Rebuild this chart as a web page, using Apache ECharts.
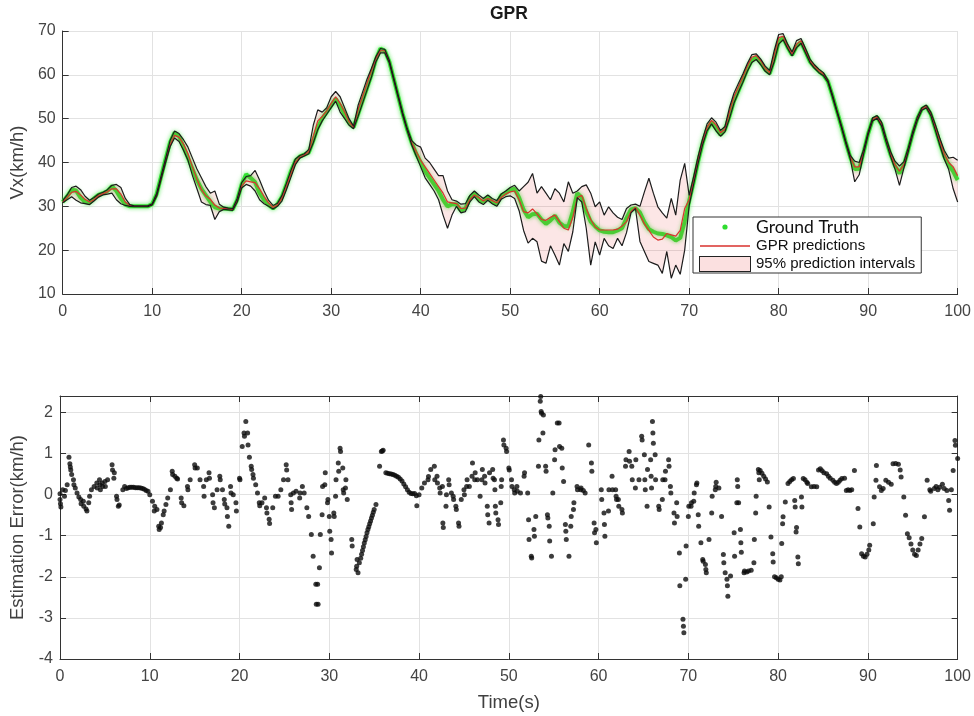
<!DOCTYPE html>
<html>
<head>
<meta charset="utf-8">
<title>GPR</title>
<script src="https://cdn.jsdelivr.net/npm/echarts@6/dist/echarts.min.js"></script>
<style>
html, body { margin: 0; padding: 0; background: #fff; }
#main { width: 974px; height: 716px; }
</style>
</head>
<body>
<div id="main"></div>
<script>
// sample times (s), every 0.5 s
var time = [
  0, 0.5, 1, 1.5, 2, 2.5, 3, 3.5, 4, 4.5, 5, 5.5, 6, 6.5, 7, 7.5, 8, 8.5, 9, 9.5,
  10, 10.5, 11, 11.5, 12, 12.5, 13, 13.5, 14, 14.5, 15, 15.5, 16, 16.5, 17, 17.5, 18, 18.5, 19, 19.5,
  20, 20.5, 21, 21.5, 22, 22.5, 23, 23.5, 24, 24.5, 25, 25.5, 26, 26.5, 27, 27.5, 28, 28.5, 29, 29.5,
  30, 30.5, 31, 31.5, 32, 32.5, 33, 33.5, 34, 34.5, 35, 35.5, 36, 36.5, 37, 37.5, 38, 38.5, 39, 39.5,
  40, 40.5, 41, 41.5, 42, 42.5, 43, 43.5, 44, 44.5, 45, 45.5, 46, 46.5, 47, 47.5, 48, 48.5, 49, 49.5,
  50, 50.5, 51, 51.5, 52, 52.5, 53, 53.5, 54, 54.5, 55, 55.5, 56, 56.5, 57, 57.5, 58, 58.5, 59, 59.5,
  60, 60.5, 61, 61.5, 62, 62.5, 63, 63.5, 64, 64.5, 65, 65.5, 66, 66.5, 67, 67.5, 68, 68.5, 69, 69.5,
  70, 70.5, 71, 71.5, 72, 72.5, 73, 73.5, 74, 74.5, 75, 75.5, 76, 76.5, 77, 77.5, 78, 78.5, 79, 79.5,
  80, 80.5, 81, 81.5, 82, 82.5, 83, 83.5, 84, 84.5, 85, 85.5, 86, 86.5, 87, 87.5, 88, 88.5, 89, 89.5,
  90, 90.5, 91, 91.5, 92, 92.5, 93, 93.5, 94, 94.5, 95, 95.5, 96, 96.5, 97, 97.5, 98, 98.5, 99, 99.5, 100
];

// measured speed (km/h)
var truth = [
  31, 32.3, 33.8, 33.6, 32, 31, 30.8, 31.8, 32.6, 33, 33.5, 34.6, 33.5, 31.8, 30.4, 30, 30, 30, 30, 30,
  30.5, 32.8, 36.8, 40.8, 44.6, 46.8, 46, 43.5, 41, 38.5, 36, 34, 32.5, 31, 29.8, 29.5, 29.5, 29.4, 29.3, 31.5,
  35, 37.3, 36.5, 35.5, 33, 31.5, 30.3, 29.5, 30.5, 32.2, 35, 38, 40.4, 41.4, 41.8, 42.3, 45, 48, 50, 51.5,
  53, 54.5, 53, 51, 49, 48, 51, 54, 57, 60, 63.5, 66, 65.5, 63, 59, 55, 51, 47.5, 44.5, 42,
  40, 38, 36.5, 35, 33.5, 31.5, 30, 30.5, 30.5, 29, 29.5, 32, 33, 31.5, 31, 32.2, 31, 30.5, 32.5, 33,
  33.8, 34, 32, 29.2, 27.5, 28.2, 28.3, 27, 26, 26.8, 27.9, 26.3, 25.5, 25.4, 28.8, 33, 32, 28.8, 26.5, 25.4,
  24.5, 24.2, 24.1, 24.1, 24.5, 25, 27.3, 29.3, 29.6, 28.6, 26.4, 24.8, 24.2, 23.8, 23.7, 23.4, 23, 22.2, 22.8, 26.5,
  31.2, 35.5, 40.2, 44.4, 47.5, 49.2, 47.8, 46.3, 47.5, 50.5, 54, 56.3, 58.8, 61.3, 63.3, 64, 62.8, 61.2, 60.3, 63.5,
  67.5, 68.5, 66.3, 64.5, 66.5, 67.5, 65.3, 63, 61.8, 60.8, 60, 58.5, 55.3, 51.8, 48.3, 44.6, 41.2, 38.5, 38.6, 42.4,
  46.6, 49.8, 50.4, 48.6, 45, 41.8, 39.2, 37.5, 39.5, 43, 46.8, 50, 52.2, 52.8, 51, 47.8, 44.5, 41.4, 39.5, 38, 36
];

// GPR mean prediction
var predicted = [
  31, 32, 33.2, 33.4, 32.6, 31.6, 31, 31.5, 32.4, 32.9, 33.3, 34, 34, 32.8, 31, 30.2, 30, 30, 30, 30,
  30.4, 32.5, 36.4, 40.4, 44, 46.2, 45.8, 44.2, 42, 39, 36.2, 33.8, 32.4, 31.6, 30.3, 29.6, 29.5, 29.4, 29.3, 31.2,
  34.6, 35.8, 35.6, 35.4, 34, 32.3, 30.8, 29.8, 30.3, 31.8, 34.5, 37.4, 40, 41.2, 41.7, 42.5, 46, 49.5, 50.5, 51.8,
  53.5, 55, 53.5, 51.5, 49.3, 48, 52, 55, 58, 61, 63.8, 65.5, 65.5, 63, 59, 55, 51, 47.5, 44.5, 42.5,
  40.5, 39, 37.5, 36, 34.5, 33, 31, 30.8, 30.6, 29.5, 29.6, 31.5, 32.6, 32, 31.2, 31.8, 31.3, 30.8, 32, 32.8,
  33.3, 33.5, 31.5, 28.8, 28.5, 29.4, 28.3, 27, 26.8, 27.5, 28, 26.5, 25, 24.6, 27.5, 32, 32.5, 29.5, 27, 25.3,
  24.6, 24.6, 24.6, 24.6, 24.8, 25.5, 26.5, 28.8, 29.8, 28, 26, 24.5, 23, 22.3, 22.5, 23.8, 23.5, 23.2, 24.5, 29.5,
  31.5, 36, 40.8, 44.8, 48, 49.6, 48.6, 46.8, 47.6, 51.5, 55, 57.2, 59.5, 62, 64, 64.4, 63.2, 61.5, 60.5, 64.5,
  68.5, 68.8, 66.5, 64.8, 67, 67.8, 65.5, 63.2, 62, 61, 60.2, 58.6, 55.3, 51.8, 48.3, 44.6, 41.3, 39, 39, 42.5,
  46.6, 49.8, 50.4, 48.8, 45.2, 42, 39.5, 38, 39.5, 43, 46.8, 50, 52.2, 52.8, 51.2, 48.2, 45, 42, 40, 39, 37
];

// 95% interval, lower edge
var lower = [
  30.8, 31.5, 32.2, 31.4, 30.8, 30.6, 30.4, 31.2, 32.1, 32.6, 32.8, 33, 31.5, 30.6, 30.2, 30, 29.9, 29.9, 29.9, 29.9,
  30.3, 32.3, 36.2, 40, 43.6, 45.6, 44.8, 42.8, 40.5, 37, 34, 31, 30.4, 30.2, 27, 28.8, 29.3, 29.2, 29.1, 31,
  34.2, 35, 34.6, 33.5, 31.5, 30.6, 30, 29.4, 30, 31.2, 33.8, 36.6, 39.5, 41, 41.5, 42, 44.5, 47.5, 49.5, 51,
  52.5, 54, 51.5, 50, 48.5, 47.7, 50.5, 53.5, 56.5, 59.5, 63, 65, 65, 62.7, 58.7, 54.7, 50.7, 47.2, 44, 41.5,
  39, 36.5, 35, 33.5, 31.5, 28, 25, 28, 30, 28.5, 28.8, 31, 32.2, 31, 30.4, 31.4, 30.6, 30, 31.6, 32.2,
  32.4, 31.8, 29, 24.5, 21.6, 22.7, 21.9, 17.5, 17, 21, 18.9, 16.6, 21.5, 19.7, 24.2, 32, 31, 25, 16.6, 21.9,
  18.9, 22.7, 21, 20.4, 22.7, 21, 24, 28.5, 29.5, 22, 19.7, 17.4, 17, 16.6, 14.7, 19.7, 13.6, 16.6, 14.5, 20,
  30.2, 35, 39.8, 44, 47.2, 48.8, 47.2, 46, 47, 50, 53.5, 56, 58.3, 60.8, 62.8, 63.5, 62.3, 60.8, 60, 63,
  67, 68, 66, 64.3, 66.2, 67.2, 65, 62.8, 61.5, 60.5, 59.8, 58.3, 55, 51.5, 48, 44.3, 40.8, 35.6, 37.2, 42,
  46.3, 49.5, 50.1, 48.3, 44.7, 41.4, 38.5, 34.8, 38.8, 42.6, 46.4, 49.6, 51.9, 52.5, 50.7, 47.4, 44, 40.8, 38.4, 34, 31
];

// 95% interval, upper edge
var upper = [
  31.3, 32.6, 34.3, 34.6, 33.8, 32.3, 31.4, 32, 32.8, 33.2, 33.8, 34.8, 35, 34.3, 31.8, 30.4, 30.1, 30.1, 30.1, 30.1,
  30.6, 33, 37, 41, 45, 47.2, 46.6, 45.2, 43.5, 41, 38.5, 36.5, 34.5, 33, 33.5, 30.5, 29.8, 29.6, 29.5, 31.8,
  35.4, 36.8, 37, 38.2, 36, 33.5, 31.4, 30.2, 30.7, 32.5, 35.3, 38.2, 40.8, 41.6, 42, 43, 48.5, 52, 51.5, 52.5,
  55, 56.2, 55, 52.5, 50, 48.3, 53, 56, 59, 61.5, 64.2, 66, 65.8, 63.3, 59.3, 55.3, 51.3, 47.8, 45, 44,
  43.5, 41, 40, 38.5, 37, 37, 33.5, 31.5, 31.2, 30.5, 30.6, 32.5, 33.5, 32.6, 31.8, 32.6, 31.8, 31.3, 32.8, 33.5,
  34.3, 34.8, 33.5, 34.5, 35.5, 37.5, 33, 34.5, 33, 31.5, 34, 33, 31, 35.6, 33, 33.5, 34.5, 34.9, 33, 29.9,
  31, 28, 29.9, 28.5, 27.5, 27, 29.5, 30.3, 30.5, 30, 33.3, 36.4, 33, 29.9, 28.5, 27.3, 31.8, 28, 36, 39.8,
  32.5, 36.8, 41.4, 45.4, 48.8, 50.2, 49.2, 47.3, 48.2, 52.5, 55.8, 58, 60.2, 62.6, 64.6, 64.8, 63.6, 62, 61, 65.5,
  69.2, 69.4, 67, 65.2, 67.8, 68.3, 66, 63.6, 62.3, 61.3, 60.5, 58.8, 55.6, 52, 48.6, 44.9, 41.6, 40.3, 40, 43,
  47, 50.2, 50.7, 49.2, 45.6, 42.5, 40.3, 39.2, 40.2, 43.5, 47.2, 50.4, 52.5, 53.1, 51.5, 48.7, 45.6, 42.8, 41, 41.2, 40.5
];

// estimation error samples [time s, error km/h]
var errorPoints = [
  [0,0.02],[0,-0.12],[0.05,-0.22],[0.1,-0.3],[0.3,0.12],[0.5,-0.04],[0.6,0.1],[0.8,0.24],[1,0.91],[1.1,0.75],
  [1.15,0.67],[1.2,0.6],[1.3,0.49],[1.5,0.36],[1.55,0.24],[1.7,0.16],[1.9,0.04],[2.1,-0.06],[2.3,-0.12],[2.35,-0.22],
  [2.6,-0.16],[2.65,-0.28],[2.9,-0.35],[3,-0.4],[3.2,-0.2],[3.3,-0.04],[3.5,0.12],[3.8,0.2],[4.1,0.28],[4.15,0.16],
  [4.4,0.36],[4.45,0.24],[4.5,0.12],[4.7,0.28],[4.75,0.2],[5,0.32],[5.05,0.2],[5.3,0.36],[5.8,0.73],[5.85,0.6],
  [6,0.4],[6.05,0.53],[6.3,-0.04],[6.35,-0.12],[6.5,-0.28],[6.6,-0.25],[7,0.12],[7.2,0.2],[7.4,0.15],[7.6,0.17],
  [7.8,0.18],[8,0.18],[8.2,0.18],[8.4,0.17],[8.6,0.17],[8.8,0.17],[9,0.16],[9.2,0.15],[9.4,0.13],[9.6,0.1],
  [9.8,0.08],[10,0],[10.3,-0.16],[10.5,-0.4],[10.55,-0.28],[10.8,-0.36],[11,-0.77],[11.05,-0.85],[11.2,-0.8],[11.3,-0.69],
  [11.5,-0.49],[11.6,-0.4],[11.8,-0.24],[12,-0.08],[12.3,0.12],[12.5,0.57],[12.55,0.49],[12.8,0.45],[13,0.4],[13.1,0.38],
  [13.5,-0.08],[13.55,-0.2],[13.8,-0.27],[14.2,0.2],[14.25,0.12],[14.5,0.36],[15,0.73],[15.05,0.65],[15.3,0.65],[15.6,0.36],
  [16,0.2],[16.05,-0.04],[16.3,0.36],[16.6,0.53],[16.65,0.4],[17,0],[17.05,-0.2],[17.2,-0.32],[17.5,0.12],[17.8,0.45],
  [17.85,0.36],[18.1,0.12],[18.3,-0.12],[18.35,-0.23],[18.6,-0.32],[18.65,-0.53],[18.8,-0.77],[19,0.2],[19.05,0.04],[19.3,0],
  [19.6,-0.2],[19.65,-0.4],[20,0.4],[20.05,0.36],[20.3,1.17],[20.5,1.5],[20.55,1.42],[20.7,1.78],[20.9,1.5],[20.95,1.21],
  [21.1,0.91],[21.3,0.69],[21.35,0.61],[21.5,0.49],[21.55,0.4],[21.8,0.24],[22,0.04],[22.2,-0.2],[22.25,-0.27],[22.5,-0.2],
  [22.8,-0.08],[23,-0.32],[23.05,-0.45],[23.3,-0.6],[23.35,-0.7],[23.7,-0.32],[24,-0.04],[24.3,-0.04],[24.6,0.12],[24.9,0.36],
  [25.2,0.73],[25.25,0.6],[25.4,0.36],[25.7,0],[25.75,-0.2],[25.8,-0.36],[26,0.04],[26.3,0.08],[26.7,-0.08],[26.75,0.04],
  [27,0.2],[27.2,0.04],[27.5,-0.32],[27.7,-0.53],[28,-0.97],[28.2,-1.5],[28.5,-2.18],[28.55,-2.67],[28.7,-2.18],[28.75,-2.67],
  [28.9,-1.78],[29,-0.97],[29.2,-0.49],[29.25,0.2],[29.5,0.24],[29.55,0.53],[29.8,-0.2],[29.85,-0.12],[30,-0.53],[30.05,-0.89],
  [30.2,-1.09],[30.25,-1.42],[30.5,-0.45],[30.55,-0.53],[30.7,-0.04],[30.75,0.36],[31,0.77],[31.05,0.57],[31.2,1.13],[31.25,1.05],
  [31.5,0.65],[31.55,0.12],[31.6,0.04],[31.8,0.16],[31.85,0.36],[32,-0.12],[32.5,-1.09],[32.55,-1.25],[33,-1.82],[33.05,-1.74],
  [33.1,-1.58],[33.2,-1.9],[33.35,-1.66],[33.5,-1.55],[33.6,-1.45],[33.7,-1.36],[33.8,-1.27],[33.9,-1.18],[34,-1.1],[34.1,-1.02],
  [34.2,-0.93],[34.3,-0.85],[34.4,-0.78],[34.5,-0.71],[34.6,-0.64],[34.7,-0.57],[34.8,-0.5],[34.9,-0.43],[35,-0.36],[35.2,-0.24],
  [35.6,0.69],[35.8,1.05],[35.9,1.06],[36,1.08],[36.3,0.53],[36.5,0.52],[36.7,0.51],[36.9,0.5],[37.1,0.49],[37.3,0.47],
  [37.5,0.45],[37.7,0.42],[37.9,0.38],[38.1,0.33],[38.3,0.26],[38.5,0.19],[38.7,0.12],[38.9,0.06],[39.1,0.03],[39.3,0.02],
  [39.5,0.03],[39.7,-0.03],[39.75,-0.27],[40,0],[40.3,0.16],[40.6,0.28],[41,0.36],[41.05,0.44],[41.3,0.61],[41.7,0.69],
  [41.75,0.36],[42,0.45],[42.05,0.28],[42.3,0.16],[42.35,0.04],[42.6,0.2],[42.65,-0.69],[42.7,-0.8],[43,-0.28],[43.05,0],
  [43.3,0.36],[43.35,0.24],[43.6,0.04],[43.8,-0.04],[43.85,-0.12],[44.1,-0.28],[44.15,-0.36],[44.4,-0.69],[44.45,-0.77],[44.7,-0.12],
  [45,0.12],[45.05,0],[45.3,0.2],[45.35,0.36],[45.6,0.2],[45.9,0.45],[45.95,0.77],[46.2,0.36],[46.25,0.53],[46.5,0.36],
  [46.8,-0.04],[47,0.36],[47.05,0.61],[47.3,0.45],[47.35,0.28],[47.6,-0.28],[47.65,-0.49],[47.8,-0.69],[47.85,0.53],[48.2,0.61],
  [48.25,0.4],[48.4,0.36],[48.45,0.12],[48.5,-0.28],[48.55,-0.45],[48.8,-0.61],[48.85,-0.73],[49.1,-0.2],[49.15,0.2],[49.2,0.36],
  [49.4,1.33],[49.45,1.21],[49.7,1.13],[49.75,1.05],[50,0.65],[50.05,0.6],[50.3,0.36],[50.35,0.2],[50.6,0.12],[50.65,0.04],
  [50.9,0.2],[50.95,0.08],[51.3,0.04],[51.7,0.45],[51.75,0.53],[52.1,0.04],[52.2,-0.61],[52.25,-1.09],[52.5,-1.5],[52.55,-1.54],
  [52.8,-0.85],[52.85,-1.01],[53,-0.53],[53.3,0.69],[53.35,1.33],[53.5,2.27],[53.55,2.39],[53.6,2.02],[53.65,1.98],[53.8,1.5],
  [53.85,1.94],[54.1,0.69],[54.15,0.57],[54.3,-0.49],[54.35,-0.57],[54.5,-0.77],[54.55,-1.13],[54.75,-1.5],[54.9,0.04],[55.1,0.85],
  [55.15,1.09],[55.4,1.74],[55.45,2.41],[55.6,1.74],[55.65,1.17],[55.9,1.13],[55.95,0.65],[56.1,0.32],[56.3,-0.73],[56.35,-0.89],
  [56.4,-1.09],[56.7,-1.5],[56.9,-0.77],[56.95,-0.53],[57.2,-0.36],[57.25,-0.2],[57.6,0.2],[57.65,0.12],[58,0.12],[58.05,0.16],
  [58.3,0.1],[58.5,0.04],[58.9,1.21],[59.2,0.77],[59.25,0.57],[59.5,-0.69],[59.55,-0.93],[59.7,-0.85],[59.75,-1.17],[60.3,0.12],
  [60.35,-0.12],[60.6,-0.45],[60.65,-0.73],[60.7,-1.01],[61.1,-0.4],[61.15,0.12],[61.5,0.45],[61.55,0.12],[61.9,0.12],[61.95,-0.04],
  [62,-0.12],[62.2,-0.12],[62.25,-0.28],[62.6,-0.36],[62.65,-0.45],[63,0.69],[63.05,0.85],[63.4,1.05],[63.45,0.81],[63.7,0.69],
  [63.75,0.36],[64.1,0.16],[64.15,0.85],[64.5,0.36],[64.8,1.42],[64.85,1.33],[65.1,0.97],[65.15,0.36],[65.2,0.12],[65.4,-0.28],
  [65.45,0.61],[65.8,0.85],[65.85,0.45],[65.9,0.16],[66,1.78],[66.05,1.5],[66.1,1.25],[66.3,0.97],[66.35,0.36],[66.7,-0.28],
  [66.75,-0.36],[67.1,-0.12],[67.15,0.36],[67.4,0.36],[67.45,0.57],[67.8,0.85],[67.85,0.69],[68,0.2],[68.05,0.04],[68.4,-0.45],
  [68.45,-0.69],[68.7,-0.2],[68.75,-0.53],[69,-1.42],[69.05,-2.22],[69.4,-3.03],[69.45,-3.2],[69.5,-3.36],[69.7,-2.06],[69.75,-1.25],
  [70,-0.53],[70.05,-0.28],[70.3,-0.28],[70.35,-0.2],[70.6,-0.16],[70.65,0.04],[70.9,0.24],[70.95,0.28],[71.1,-0.49],[71.15,-0.77],
  [71.4,-1.17],[71.6,-1.58],[71.65,-1.62],[71.9,-1.7],[71.95,-1.82],[72,-1.9],[72.3,-1.09],[72.6,-0.45],[72.65,-0.04],[73,0.12],
  [73.05,0.2],[73.1,0.3],[73.4,0.16],[73.7,-0.53],[73.9,-1.46],[73.95,-1.66],[74.1,-1.9],[74.3,-2.06],[74.35,-2.22],[74.4,-2.47],
  [74.7,-1.98],[75.1,-0.93],[75.15,-1.5],[75.4,-0.2],[75.45,0.36],[75.5,0.2],[75.6,-0.2],[75.8,-0.85],[75.85,-1.17],[75.9,-1.4],
  [76.2,-1.9],[76.25,-1.86],[76.5,-1.88],[76.7,-1.86],[77,-1.84],[77.3,-1.66],[77.35,-1.09],[77.5,-0.45],[77.55,-0.04],[77.8,0.61],
  [77.85,0.53],[77.9,0.36],[78,0.59],[78.2,0.52],[78.4,0.45],[78.6,0.38],[78.8,0.31],[79,-0.3],[79.2,-1.03],[79.4,-1.44],
  [79.45,-1.64],[79.6,-2],[79.8,-2.02],[80,-2.06],[80.2,-2.08],[80.35,-2],[80.4,-1.19],[80.5,-0.71],[80.55,-0.54],[80.8,-0.18],
  [81.1,0.27],[81.3,0.32],[81.5,0.36],[81.7,0.39],[81.85,-0.14],[81.9,-0.3],[82,-0.91],[82.05,-0.8],[82.2,-1.52],[82.25,-1.68],
  [82.6,-0.06],[82.65,-0.3],[82.8,0.39],[83,0.36],[83.2,0.3],[83.3,0.27],[83.7,0.19],[84,0.2],[84.3,0.19],[84.5,0.6],
  [84.7,0.63],[84.9,0.58],[85.1,0.53],[85.4,0.51],[85.6,0.45],[85.8,0.4],[86.1,0.35],[86.3,0.3],[86.5,0.27],[86.7,0.3],
  [86.9,0.35],[87.1,0.39],[87.4,0.4],[87.6,0.1],[87.8,0.12],[88,0.1],[88.2,0.12],[88.5,0.59],[88.9,-0.34],[89.1,-0.79],
  [89.3,-1.44],[89.5,-1.5],[89.7,-1.52],[89.9,-1.45],[90.1,-1.35],[90.2,-1.23],[90.6,-0.71],[90.7,-0.06],[90.9,0.35],[90.95,0.71],
  [91.3,0.19],[91.5,0.1],[91.7,0.15],[92,0.35],[92.3,0.3],[92.6,0.25],[92.8,0.75],[93.1,0.76],[93.4,0.74],[93.6,0.6],
  [93.7,0.43],[94,-0.06],[94.2,-0.5],[94.4,-0.95],[94.6,-1.05],[94.8,-1.2],[95,-1.35],[95.2,-1.45],[95.4,-1.48],[95.6,-1.35],
  [95.8,-1.2],[96,-1.07],[96.3,-0.54],[96.6,0.35],[96.9,0.12],[97,0.08],[97.4,0.15],[97.6,0.2],[97.8,0.12],[98,0.18],
  [98.3,0.25],[98.5,0.15],[98.8,0.1],[99,-0.14],[99.1,-0.38],[99.3,0.12],[99.5,0.59],[99.7,1.32],[99.75,1.2],[100,0.88]
];

function pairs(values) {
  return time.map(function (t, i) { return [t, values[i]]; });
}

function svgIcon(body) {
  return 'image://data:image/svg+xml;charset=utf-8,' + encodeURIComponent(
    '<svg xmlns="http://www.w3.org/2000/svg" width="52" height="16" viewBox="0 0 52 16">' + body + '</svg>');
}

var axisColor = '#333';
var labelStyle = { color: '#444', fontSize: 16, fontFamily: 'Liberation Sans' };
var nameStyle = { color: '#404040', fontSize: 18.5, fontFamily: 'Liberation Sans' };
var gridLine = { show: true, lineStyle: { color: '#e2e2e2', width: 1 } };
var intLabel = function (v) { return Math.abs(v - Math.round(v)) < 1e-9 ? String(v) : ''; };

function xAxisOf(gridIndex, extra) {
  var ax = {
    gridIndex: gridIndex, type: 'value', min: 0, max: 100, interval: 10,
    axisLine: { onZero: false, lineStyle: { color: axisColor, width: 1 } },
    axisTick: { inside: true, length: 6, lineStyle: { color: axisColor } },
    axisLabel: Object.assign({ margin: 10 }, labelStyle),
    splitLine: gridLine
  };
  return Object.assign(ax, extra || {});
}

function yAxisOf(gridIndex, min, max, extra) {
  var ax = {
    gridIndex: gridIndex, type: 'value', min: min, max: max, interval: 1,
    axisLine: { onZero: false, lineStyle: { color: axisColor, width: 1 } },
    axisTick: { inside: true, length: 6, lineStyle: { color: axisColor } },
    axisLabel: Object.assign({ margin: 7, formatter: intLabel }, labelStyle),
    splitLine: gridLine
  };
  return Object.assign(ax, extra || {});
}

var chart = echarts.init(document.getElementById('main'));

var option = {
  animation: false,
  backgroundColor: '#fff',
  title: {
    text: 'GPR',
    left: 490, top: 5, padding: 0,
    textStyle: { fontSize: 17.5, fontWeight: 'bold', color: '#1a1a1a', fontFamily: 'Liberation Sans' }
  },
  legend: {
    orient: 'vertical',
    left: 693, top: 217,
    padding: [1, 6, 1, 6],
    backgroundColor: '#fff',
    borderColor: '#333', borderWidth: 1, borderRadius: 0,
    itemWidth: 52, itemHeight: 16, itemGap: 2, itemTextGap: 3,
    selectedMode: false,
    data: [
      { name: 'Ground Truth', icon: svgIcon('<circle cx="26" cy="8" r="2.6" fill="#2fdc2f"/>') },
      { name: 'GPR predictions', icon: svgIcon('<line x1="1" y1="8" x2="51" y2="8" stroke="#d9302c" stroke-width="1.3"/>') },
      { name: '95% prediction intervals', icon: svgIcon('<rect x="0.5" y="0.5" width="51" height="15" fill="#fbe0e0" stroke="#222" stroke-width="1"/>') }
    ],
    formatter: function (name) {
      return name === 'Ground Truth' ? '{gt|' + name + '}' : '{n|' + name + '}';
    },
    textStyle: {
      rich: {
        gt: { fontFamily: 'Lato', fontSize: 17.5, color: '#111', lineHeight: 20 },
        n: { fontFamily: 'Liberation Sans', fontSize: 15, color: '#111', lineHeight: 20 }
      }
    }
  },
  grid: [
    { left: 60, right: 16, top: 31, height: 263 },
    { left: 60, right: 16, top: 396, height: 263 }
  ],
  xAxis: [
    xAxisOf(0),
    xAxisOf(1, { name: 'Time(s)', nameLocation: 'middle', nameGap: 34, nameTextStyle: nameStyle }),
    xAxisOf(1, { position: 'top', axisLabel: { show: false }, splitLine: { show: false } })
  ],
  yAxis: [
    yAxisOf(0, 10, 70, { interval: 10, name: 'Vx(km/h)', nameLocation: 'middle', nameGap: 32, nameTextStyle: nameStyle }),
    yAxisOf(1, -4, 2.4, { name: 'Estimation Error(km/h)', nameLocation: 'middle', nameGap: 27, nameTextStyle: nameStyle }),
    yAxisOf(1, -4, 2.4, { position: 'right', axisLabel: { show: false }, splitLine: { show: false } })
  ],
  series: [
    {
      name: 'Ground Truth', type: 'line', xAxisIndex: 0, yAxisIndex: 0,
      data: pairs(truth), symbol: 'none', silent: true, z: 2,
      itemStyle: { color: '#2fdc2f' },
      lineStyle: { color: '#33e233', width: 4, shadowBlur: 4, shadowColor: 'rgba(70,230,70,0.8)' }
    },
    {
      name: 'GPR predictions', type: 'line', xAxisIndex: 0, yAxisIndex: 0,
      data: pairs(predicted), symbol: 'none', silent: true, z: 3,
      itemStyle: { color: '#d9302c' },
      lineStyle: { color: '#d9302c', width: 1.2 }
    },
    {
      name: '95% prediction intervals', type: 'custom', xAxisIndex: 0, yAxisIndex: 0,
      data: [[0, 10]], silent: true, z: 4,
      itemStyle: { color: '#fbe0e0' },
      renderItem: function (params, api) {
        var pts = [];
        for (var i = 0; i < time.length; i++) pts.push(api.coord([time[i], upper[i]]));
        for (var j = time.length - 1; j >= 0; j--) pts.push(api.coord([time[j], lower[j]]));
        return { type: 'polygon', shape: { points: pts }, style: { fill: 'rgba(230,60,60,0.13)' } };
      }
    },
    {
      name: 'upper bound', type: 'line', xAxisIndex: 0, yAxisIndex: 0,
      data: pairs(upper), symbol: 'none', silent: true, z: 5,
      lineStyle: { color: '#1c1c1c', width: 1.2 }
    },
    {
      name: 'lower bound', type: 'line', xAxisIndex: 0, yAxisIndex: 0,
      data: pairs(lower), symbol: 'none', silent: true, z: 5,
      lineStyle: { color: '#1c1c1c', width: 1.2 }
    },
    {
      name: 'Estimation Error', type: 'scatter', xAxisIndex: 1, yAxisIndex: 1,
      data: errorPoints, symbolSize: 5, silent: true,
      itemStyle: { color: '#0d0d0d' }
    }
  ]
};

chart.setOption(option);
</script>
</body>
</html>
